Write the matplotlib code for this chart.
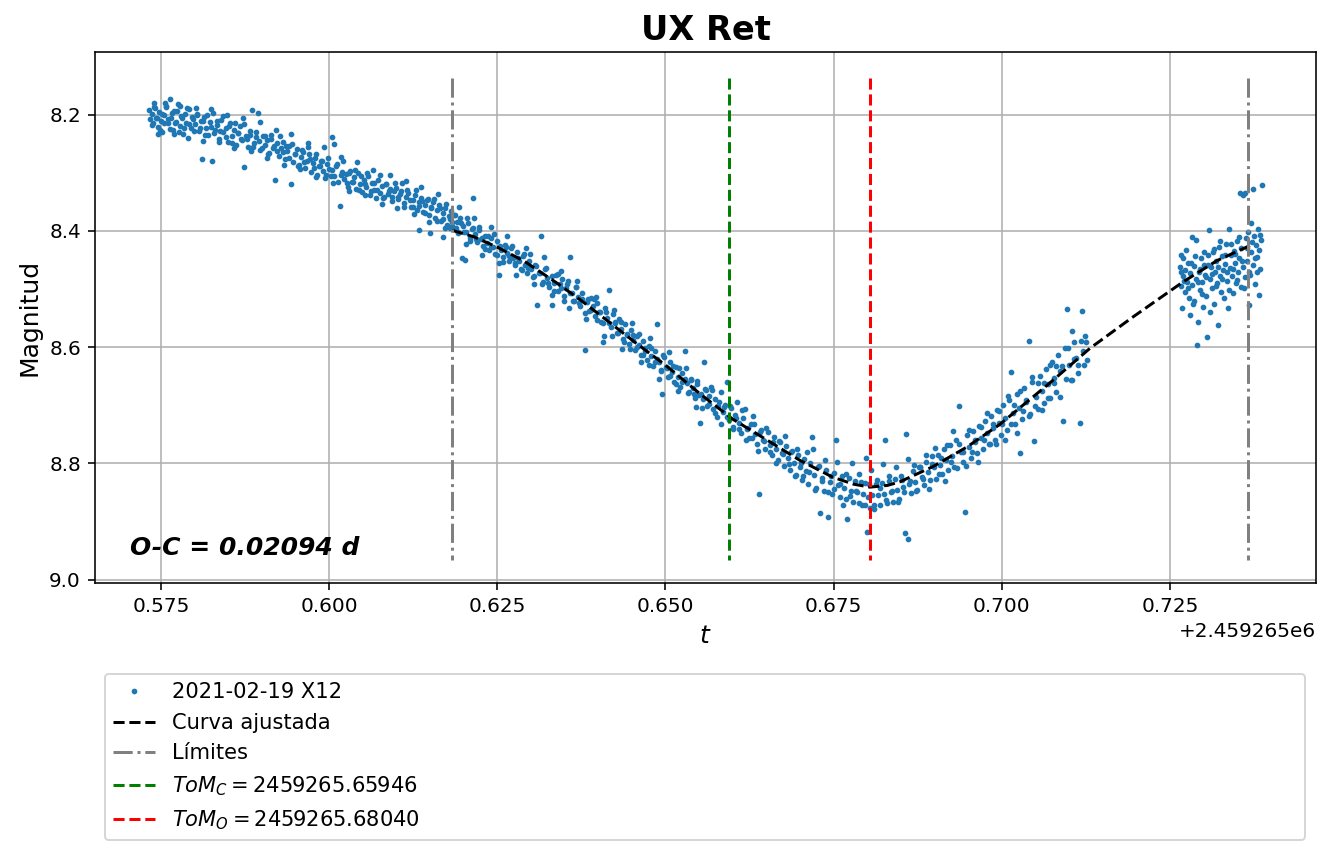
import numpy as np
import matplotlib
matplotlib.use("Agg")
import matplotlib.pyplot as plt

# Julian date base (plotted with the default offset formatter)
JD0 = 2459265.0

obs_pre = [
    (0.5733, 8.192), (0.5734, 8.208), (0.5736, 8.199), (0.5738, 8.214), (0.5740, 8.187),
    (0.5742, 8.205), (0.5745, 8.221), (0.5747, 8.196), (0.5750, 8.210), (0.5752, 8.230),
    (0.5755, 8.201), (0.5757, 8.185), (0.5760, 8.215), (0.5763, 8.173), (0.5765, 8.206),
    (0.5768, 8.226), (0.5770, 8.194), (0.5773, 8.212), (0.5775, 8.181), (0.5778, 8.219),
    (0.5780, 8.203), (0.5783, 8.233), (0.5786, 8.198), (0.5788, 8.214), (0.5791, 8.190),
    (0.5794, 8.222), (0.5797, 8.207), (0.5800, 8.216),
    (0.5803, 8.199), (0.5806, 8.228), (0.5809, 8.211), (0.5811, 8.277), (0.5814, 8.204),
    (0.5817, 8.222), (0.5820, 8.235), (0.5823, 8.213), (0.5826, 8.280), (0.5828, 8.197),
    (0.5831, 8.226), (0.5834, 8.218), (0.5837, 8.241), (0.5840, 8.209), (0.5843, 8.230),
    (0.5846, 8.222), (0.5849, 8.247), (0.5852, 8.215), (0.5855, 8.236), (0.5858, 8.226),
    (0.5861, 8.252), (0.5864, 8.231), (0.5867, 8.219), (0.5870, 8.244), (0.5873, 8.290),
    (0.5876, 8.236), (0.5879, 8.255), (0.5882, 8.228), (0.5885, 8.191), (0.5888, 8.248),
    (0.5891, 8.239), (0.5895, 8.197), (0.5898, 8.261),
    (0.5901, 8.236), (0.5904, 8.252), (0.5907, 8.244), (0.5910, 8.266), (0.5913, 8.241),
    (0.5916, 8.258), (0.5919, 8.313), (0.5922, 8.249), (0.5925, 8.271), (0.5928, 8.257),
    (0.5931, 8.247), (0.5934, 8.276), (0.5937, 8.262), (0.5940, 8.254), (0.5943, 8.320),
    (0.5946, 8.281), (0.5949, 8.267), (0.5952, 8.259), (0.5955, 8.286), (0.5958, 8.272),
    (0.5961, 8.264), (0.5964, 8.291), (0.5967, 8.279), (0.5970, 8.268), (0.5973, 8.298),
    (0.5976, 8.283), (0.5979, 8.274), (0.5982, 8.303), (0.5985, 8.288), (0.5988, 8.279),
    (0.5991, 8.296), (0.5994, 8.309), (0.5997, 8.284),
    (0.6000, 8.294), (0.6003, 8.306), (0.6005, 8.239), (0.6007, 8.251), (0.6010, 8.289),
    (0.6013, 8.316), (0.6016, 8.357), (0.6019, 8.298), (0.6022, 8.311), (0.6025, 8.302),
    (0.6028, 8.324), (0.6031, 8.296), (0.6034, 8.315), (0.6037, 8.308), (0.6040, 8.327),
    (0.6043, 8.301), (0.6046, 8.319), (0.6049, 8.333), (0.6052, 8.312), (0.6055, 8.324),
    (0.6058, 8.306), (0.6061, 8.338), (0.6064, 8.318), (0.6067, 8.329), (0.6070, 8.344),
    (0.6073, 8.312), (0.6076, 8.335), (0.6079, 8.323), (0.6082, 8.341), (0.6085, 8.319),
    (0.6088, 8.337), (0.6091, 8.327), (0.6094, 8.349), (0.6097, 8.331),
    (0.6100, 8.326), (0.6103, 8.345), (0.6106, 8.337), (0.6109, 8.318), (0.6112, 8.352),
    (0.6115, 8.341), (0.6118, 8.334), (0.6121, 8.359), (0.6124, 8.346), (0.6127, 8.338),
    (0.6130, 8.364), (0.6133, 8.350), (0.6134, 8.398), (0.6136, 8.343), (0.6139, 8.368),
    (0.6142, 8.355), (0.6145, 8.347), (0.6148, 8.372), (0.6150, 8.404), (0.6151, 8.359),
    (0.6154, 8.351), (0.6157, 8.378), (0.6160, 8.364), (0.6163, 8.356), (0.6166, 8.383),
    (0.6169, 8.369), (0.6170, 8.410), (0.6172, 8.361), (0.6175, 8.390), (0.6178, 8.374),
    (0.6179, 8.395), (0.6181, 8.366), (0.6183, 8.385),
]

obs_pre_b = [
    (0.5737, 8.217), (0.5741, 8.189), (0.5744, 8.206), (0.5748, 8.227), (0.5751, 8.198),
    (0.5754, 8.215), (0.5758, 8.186), (0.5761, 8.207), (0.5764, 8.224), (0.5767, 8.197),
    (0.5771, 8.214), (0.5774, 8.193), (0.5777, 8.229), (0.5781, 8.206), (0.5785, 8.222),
    (0.5789, 8.189), (0.5792, 8.216), (0.5796, 8.204), (0.5799, 8.228), (0.5804, 8.201),
    (0.5808, 8.223), (0.5812, 8.211), (0.5816, 8.235), (0.5819, 8.201), (0.5824, 8.221),
    (0.5829, 8.232), (0.5833, 8.210), (0.5838, 8.228), (0.5842, 8.203), (0.5847, 8.239),
    (0.5851, 8.220), (0.5856, 8.249), (0.5860, 8.215), (0.5865, 8.231), (0.5869, 8.242),
    (0.5874, 8.216), (0.5878, 8.242), (0.5883, 8.235), (0.5887, 8.256), (0.5892, 8.229),
    (0.5896, 8.246), (0.5900, 8.257), (0.5905, 8.237), (0.5909, 8.267), (0.5914, 8.235),
    (0.5918, 8.253), (0.5923, 8.263), (0.5927, 8.236), (0.5932, 8.264), (0.5936, 8.253),
    (0.5941, 8.275), (0.5945, 8.251), (0.5950, 8.268), (0.5954, 8.288), (0.5959, 8.260),
    (0.5963, 8.281), (0.5968, 8.256), (0.5972, 8.276), (0.5977, 8.291), (0.5981, 8.267),
    (0.5986, 8.288), (0.5990, 8.280), (0.5995, 8.304), (0.5999, 8.275), (0.6004, 8.295),
    (0.6008, 8.305), (0.6012, 8.285), (0.6017, 8.304), (0.6021, 8.280), (0.6026, 8.318),
    (0.6030, 8.301), (0.6035, 8.315), (0.6039, 8.295), (0.6044, 8.330), (0.6048, 8.305),
    (0.6053, 8.319), (0.6057, 8.300), (0.6062, 8.331), (0.6066, 8.318), (0.6071, 8.330),
    (0.6075, 8.304), (0.6080, 8.343), (0.6084, 8.319), (0.6089, 8.332), (0.6093, 8.342),
    (0.6098, 8.318), (0.6102, 8.341), (0.6107, 8.332), (0.6111, 8.358), (0.6116, 8.329),
    (0.6120, 8.347), (0.6125, 8.358), (0.6129, 8.330), (0.6134, 8.357), (0.6138, 8.348),
    (0.6143, 8.369), (0.6147, 8.345), (0.6152, 8.361), (0.6156, 8.345), (0.6161, 8.383),
    (0.6165, 8.360), (0.6170, 8.379), (0.6174, 8.353), (0.6179, 8.379), (0.6182, 8.391),
]

obs_desc = [
    (0.6186, 8.372), (0.6188, 8.395), (0.6190, 8.384), (0.6192, 8.404), (0.6195, 8.377),
    (0.6197, 8.447), (0.6199, 8.392), (0.6202, 8.450), (0.6204, 8.401), (0.6207, 8.386),
    (0.6210, 8.412), (0.6212, 8.397), (0.6214, 8.344), (0.6217, 8.405), (0.6220, 8.419),
    (0.6223, 8.399), (0.6226, 8.414), (0.6229, 8.426), (0.6232, 8.408), (0.6235, 8.421),
    (0.6238, 8.433), (0.6241, 8.413), (0.6244, 8.427), (0.6247, 8.440), (0.6250, 8.418),
    (0.6252, 8.475), (0.6255, 8.432), (0.6258, 8.445), (0.6261, 8.424), (0.6264, 8.438),
    (0.6267, 8.451), (0.6270, 8.430), (0.6273, 8.446), (0.6276, 8.459), (0.6279, 8.437),
    (0.6282, 8.452), (0.6285, 8.466), (0.6288, 8.444), (0.6291, 8.458), (0.6294, 8.473),
    (0.6297, 8.451), (0.6300, 8.466), (0.6303, 8.480), (0.6306, 8.459), (0.6309, 8.528),
    (0.6312, 8.473), (0.6315, 8.409), (0.6318, 8.488), (0.6321, 8.466), (0.6324, 8.481),
    (0.6327, 8.497), (0.6331, 8.528), (0.6334, 8.489), (0.6337, 8.475), (0.6340, 8.504),
    (0.6343, 8.492), (0.6346, 8.482), (0.6349, 8.512), (0.6352, 8.498), (0.6355, 8.487),
    (0.6358, 8.445), (0.6361, 8.506), (0.6364, 8.521), (0.6367, 8.497), (0.6370, 8.513),
    (0.6373, 8.530), (0.6376, 8.507), (0.6380, 8.605), (0.6383, 8.522), (0.6386, 8.538),
    (0.6389, 8.515), (0.6392, 8.530), (0.6395, 8.547), (0.6398, 8.524), (0.6401, 8.540),
    (0.6404, 8.556), (0.6407, 8.591), (0.6410, 8.533), (0.6413, 8.549), (0.6416, 8.501),
    (0.6419, 8.566), (0.6422, 8.543), (0.6425, 8.559), (0.6428, 8.576), (0.6431, 8.552),
    (0.6434, 8.569), (0.6437, 8.586), (0.6440, 8.561), (0.6443, 8.578), (0.6446, 8.595),
    (0.6449, 8.571), (0.6452, 8.588), (0.6455, 8.605), (0.6458, 8.580), (0.6461, 8.597),
    (0.6464, 8.614), (0.6467, 8.590), (0.6470, 8.606), (0.6473, 8.623), (0.6476, 8.598),
    (0.6479, 8.616), (0.6482, 8.633), (0.6485, 8.607), (0.6487, 8.561), (0.6490, 8.625),
    (0.6493, 8.641), (0.6495, 8.680), (0.6498, 8.617), (0.6501, 8.634), (0.6504, 8.651),
    (0.6507, 8.626), (0.6510, 8.643), (0.6513, 8.660), (0.6516, 8.635), (0.6519, 8.652),
    (0.6522, 8.669), (0.6525, 8.645), (0.6529, 8.607), (0.6532, 8.662), (0.6535, 8.678),
    (0.6538, 8.654), (0.6541, 8.671), (0.6544, 8.688), (0.6547, 8.663), (0.6551, 8.731),
    (0.6553, 8.681),
]

obs_desc_b = [
    (0.6187, 8.373), (0.6191, 8.402), (0.6196, 8.387), (0.6200, 8.401), (0.6205, 8.378),
    (0.6209, 8.417), (0.6214, 8.395), (0.6218, 8.414), (0.6223, 8.394), (0.6227, 8.413),
    (0.6232, 8.431), (0.6236, 8.408), (0.6241, 8.428), (0.6245, 8.406), (0.6250, 8.441),
    (0.6254, 8.426), (0.6259, 8.454), (0.6263, 8.428), (0.6268, 8.443), (0.6272, 8.426),
    (0.6277, 8.455), (0.6281, 8.446), (0.6286, 8.468), (0.6290, 8.440), (0.6295, 8.463),
    (0.6299, 8.439), (0.6304, 8.477), (0.6308, 8.461), (0.6313, 8.473), (0.6317, 8.492),
    (0.6322, 8.463), (0.6326, 8.489), (0.6331, 8.477), (0.6335, 8.503), (0.6340, 8.474),
    (0.6344, 8.499), (0.6349, 8.520), (0.6353, 8.492), (0.6358, 8.506), (0.6362, 8.521),
    (0.6367, 8.497), (0.6371, 8.524), (0.6376, 8.518), (0.6380, 8.542), (0.6385, 8.518),
    (0.6389, 8.536), (0.6394, 8.517), (0.6398, 8.554), (0.6403, 8.539), (0.6407, 8.559),
    (0.6412, 8.540), (0.6416, 8.559), (0.6421, 8.581), (0.6425, 8.557), (0.6430, 8.575),
    (0.6434, 8.557), (0.6439, 8.591), (0.6443, 8.579), (0.6448, 8.603), (0.6452, 8.579),
    (0.6457, 8.599), (0.6461, 8.578), (0.6466, 8.613), (0.6470, 8.601), (0.6475, 8.631),
    (0.6479, 8.601), (0.6484, 8.625), (0.6488, 8.620), (0.6493, 8.640), (0.6497, 8.613),
    (0.6502, 8.636), (0.6506, 8.649), (0.6511, 8.632), (0.6515, 8.664), (0.6520, 8.636),
    (0.6524, 8.660), (0.6529, 8.654), (0.6533, 8.679), (0.6538, 8.657), (0.6542, 8.681),
    (0.6547, 8.658), (0.6550, 8.683),
]

# wider-scatter points on both sides of the descending branch
obs_wide = [
    (0.5739, 8.180), (0.5746, 8.233), (0.5756, 8.179), (0.5769, 8.234), (0.5779, 8.185),
    (0.5790, 8.240), (0.5802, 8.188), (0.5813, 8.246), (0.5825, 8.190), (0.5836, 8.247),
    (0.5848, 8.201), (0.5859, 8.258), (0.5872, 8.205), (0.5884, 8.262), (0.5897, 8.213),
    (0.5908, 8.274), (0.5921, 8.227), (0.5933, 8.287), (0.5944, 8.234), (0.5957, 8.293),
    (0.5969, 8.248), (0.5980, 8.308), (0.5993, 8.256), (0.6006, 8.318), (0.6018, 8.273),
    (0.6029, 8.331), (0.6042, 8.281), (0.6054, 8.339), (0.6065, 8.295), (0.6078, 8.354),
    (0.6090, 8.303), (0.6101, 8.361), (0.6114, 8.314), (0.6126, 8.371), (0.6137, 8.325),
    (0.6149, 8.384), (0.6162, 8.336), (0.6173, 8.395),
    (0.6193, 8.358), (0.6203, 8.423), (0.6216, 8.378), (0.6228, 8.442), (0.6240, 8.394),
    (0.6253, 8.456), (0.6265, 8.408), (0.6278, 8.476), (0.6292, 8.430), (0.6305, 8.491),
    (0.6319, 8.445), (0.6332, 8.510), (0.6345, 8.469), (0.6357, 8.533), (0.6369, 8.487),
    (0.6382, 8.552), (0.6396, 8.513), (0.6409, 8.581), (0.6423, 8.536), (0.6436, 8.603),
    (0.6450, 8.558), (0.6463, 8.625), (0.6477, 8.585), (0.6491, 8.654), (0.6505, 8.608),
    (0.6518, 8.675), (0.6531, 8.636), (0.6545, 8.703),
]

obs_min = [
    (0.6556, 8.690), (0.6557, 8.625), (0.6559, 8.672), (0.6562, 8.701), (0.6565, 8.684),
    (0.6568, 8.668), (0.6571, 8.706), (0.6574, 8.689), (0.6577, 8.720), (0.6580, 8.694),
    (0.6583, 8.677), (0.6586, 8.712), (0.6589, 8.699), (0.6591, 8.660), (0.6594, 8.725),
    (0.6597, 8.704), (0.6600, 8.738), (0.6603, 8.716), (0.6606, 8.695), (0.6609, 8.730),
    (0.6612, 8.748), (0.6615, 8.722), (0.6618, 8.707), (0.6621, 8.741), (0.6624, 8.757),
    (0.6627, 8.733), (0.6630, 8.718), (0.6633, 8.750), (0.6636, 8.766), (0.6639, 8.852),
    (0.6642, 8.742), (0.6645, 8.760), (0.6648, 8.776), (0.6652, 8.746), (0.6655, 8.768),
    (0.6658, 8.786), (0.6661, 8.754), (0.6664, 8.775), (0.6667, 8.795), (0.6670, 8.763),
    (0.6673, 8.783), (0.6676, 8.804), (0.6679, 8.770), (0.6682, 8.791), (0.6685, 8.812),
    (0.6688, 8.778), (0.6691, 8.799), (0.6694, 8.820), (0.6697, 8.785), (0.6700, 8.806),
    (0.6703, 8.828), (0.6706, 8.792), (0.6709, 8.813), (0.6712, 8.835), (0.6715, 8.799),
    (0.6718, 8.755), (0.6721, 8.820), (0.6724, 8.842), (0.6727, 8.806), (0.6729, 8.886),
    (0.6732, 8.826), (0.6735, 8.848), (0.6738, 8.812), (0.6741, 8.893), (0.6744, 8.832),
    (0.6747, 8.853), (0.6750, 8.817), (0.6753, 8.759), (0.6756, 8.837), (0.6759, 8.858),
    (0.6762, 8.822), (0.6765, 8.843), (0.6768, 8.862), (0.6770, 8.895), (0.6773, 8.826),
    (0.6776, 8.847), (0.6779, 8.866), (0.6782, 8.830), (0.6785, 8.850), (0.6788, 8.869),
    (0.6791, 8.833), (0.6794, 8.853), (0.6797, 8.871), (0.6798, 8.790), (0.6800, 8.918),
    (0.6802, 8.835), (0.6804, 8.877), (0.6807, 8.854), (0.6810, 8.872), (0.6813, 8.836),
    (0.6816, 8.855), (0.6819, 8.871), (0.6822, 8.834), (0.6825, 8.853), (0.6826, 8.759),
    (0.6829, 8.869), (0.6832, 8.831), (0.6835, 8.850), (0.6838, 8.866), (0.6841, 8.827),
    (0.6844, 8.846), (0.6847, 8.862), (0.6850, 8.822), (0.6853, 8.841), (0.6856, 8.920),
    (0.6857, 8.750), (0.6860, 8.931), (0.6862, 8.835), (0.6865, 8.851), (0.6868, 8.814),
    (0.6871, 8.832), (0.6874, 8.846), (0.6877, 8.806), (0.6878, 8.807), (0.6881, 8.824),
    (0.6884, 8.838), (0.6887, 8.797), (0.6890, 8.815), (0.6893, 8.829), (0.6896, 8.788),
    (0.6899, 8.806),
]

obs_min_b = [
    (0.6555, 8.704), (0.6560, 8.674), (0.6564, 8.698), (0.6569, 8.673), (0.6573, 8.713),
    (0.6578, 8.701), (0.6582, 8.733), (0.6587, 8.703), (0.6592, 8.720), (0.6596, 8.702),
    (0.6601, 8.741), (0.6605, 8.722), (0.6610, 8.741), (0.6614, 8.708), (0.6619, 8.759),
    (0.6623, 8.739), (0.6628, 8.757), (0.6632, 8.732), (0.6637, 8.779), (0.6641, 8.746),
    (0.6646, 8.762), (0.6650, 8.739), (0.6656, 8.781), (0.6660, 8.763), (0.6665, 8.800),
    (0.6669, 8.761), (0.6674, 8.784), (0.6678, 8.753), (0.6683, 8.802), (0.6687, 8.780),
    (0.6692, 8.822), (0.6696, 8.775), (0.6701, 8.800), (0.6705, 8.822), (0.6710, 8.781),
    (0.6714, 8.815), (0.6719, 8.775), (0.6723, 8.846), (0.6728, 8.804), (0.6733, 8.831),
    (0.6737, 8.794), (0.6742, 8.849), (0.6746, 8.821), (0.6751, 8.844), (0.6755, 8.797),
    (0.6760, 8.835), (0.6764, 8.871), (0.6769, 8.819), (0.6774, 8.857), (0.6778, 8.800),
    (0.6783, 8.848), (0.6787, 8.819), (0.6792, 8.871), (0.6796, 8.834), (0.6801, 8.858),
    (0.6806, 8.812), (0.6810, 8.879), (0.6815, 8.829), (0.6819, 8.843), (0.6824, 8.801),
    (0.6828, 8.863), (0.6833, 8.821), (0.6837, 8.848), (0.6842, 8.806), (0.6846, 8.866),
    (0.6851, 8.828), (0.6855, 8.849), (0.6860, 8.792), (0.6864, 8.831), (0.6869, 8.803),
    (0.6873, 8.848), (0.6878, 8.806), (0.6883, 8.827), (0.6887, 8.785), (0.6892, 8.844),
    (0.6896, 8.802),
]

obs_rise = [
    (0.6902, 8.827), (0.6905, 8.785), (0.6908, 8.803), (0.6911, 8.819), (0.6914, 8.776),
    (0.6917, 8.795), (0.6920, 8.812), (0.6923, 8.768), (0.6926, 8.788), (0.6929, 8.806),
    (0.6932, 8.760), (0.6936, 8.702), (0.6939, 8.781), (0.6942, 8.798), (0.6945, 8.883),
    (0.6948, 8.752), (0.6951, 8.772), (0.6954, 8.791), (0.6957, 8.744), (0.6960, 8.764),
    (0.6963, 8.783), (0.6966, 8.736), (0.6969, 8.756), (0.6972, 8.775), (0.6975, 8.727),
    (0.6978, 8.748), (0.6981, 8.767), (0.6984, 8.718), (0.6987, 8.739), (0.6990, 8.759),
    (0.6993, 8.709), (0.6996, 8.731), (0.6999, 8.751), (0.7002, 8.700), (0.7005, 8.722),
    (0.7008, 8.742), (0.7011, 8.691), (0.7013, 8.643), (0.7016, 8.713), (0.7019, 8.733),
    (0.7022, 8.681), (0.7025, 8.704), (0.7027, 8.783), (0.7030, 8.724), (0.7033, 8.671),
    (0.7036, 8.695), (0.7040, 8.590), (0.7042, 8.715), (0.7045, 8.660), (0.7048, 8.762),
    (0.7051, 8.685), (0.7054, 8.706), (0.7057, 8.649), (0.7060, 8.675), (0.7063, 8.697),
    (0.7066, 8.638), (0.7069, 8.664), (0.7072, 8.688), (0.7075, 8.626), (0.7078, 8.653),
    (0.7081, 8.678), (0.7084, 8.614), (0.7087, 8.641), (0.7091, 8.727), (0.7094, 8.602),
    (0.7097, 8.535), (0.7100, 8.630), (0.7103, 8.657), (0.7104, 8.573), (0.7107, 8.591),
    (0.7110, 8.618), (0.7113, 8.645), (0.7116, 8.731), (0.7119, 8.538), (0.7121, 8.606),
    (0.7124, 8.580), (0.7126, 8.623),
]

obs_rise_b = [
    (0.6901, 8.773), (0.6906, 8.818), (0.6910, 8.790), (0.6915, 8.830), (0.6919, 8.769),
    (0.6924, 8.797), (0.6928, 8.745), (0.6933, 8.808), (0.6937, 8.767), (0.6942, 8.780),
    (0.6946, 8.804), (0.6951, 8.743), (0.6955, 8.780), (0.6960, 8.759), (0.6964, 8.798),
    (0.6969, 8.737), (0.6973, 8.760), (0.6978, 8.714), (0.6982, 8.767), (0.6987, 8.732),
    (0.6991, 8.767), (0.6996, 8.710), (0.7000, 8.733), (0.7005, 8.759), (0.7009, 8.684),
    (0.7014, 8.732), (0.7018, 8.699), (0.7023, 8.748), (0.7027, 8.676), (0.7032, 8.710),
    (0.7036, 8.691), (0.7041, 8.718), (0.7045, 8.651), (0.7050, 8.701), (0.7054, 8.661),
    (0.7059, 8.708), (0.7063, 8.661), (0.7068, 8.688), (0.7072, 8.630), (0.7077, 8.662),
    (0.7081, 8.632), (0.7086, 8.686), (0.7090, 8.632), (0.7095, 8.654), (0.7099, 8.601),
    (0.7104, 8.656), (0.7108, 8.620), (0.7113, 8.630), (0.7117, 8.589), (0.7122, 8.630),
    (0.7125, 8.592),
]

obs_end = [
    (0.7265, 8.462), (0.7266, 8.495), (0.7268, 8.533), (0.7269, 8.478), (0.7270, 8.447),
    (0.7272, 8.505), (0.7273, 8.468), (0.7275, 8.488), (0.7276, 8.455), (0.7278, 8.515),
    (0.7279, 8.545), (0.7280, 8.472), (0.7282, 8.411), (0.7283, 8.493), (0.7285, 8.460),
    (0.7286, 8.521), (0.7288, 8.482), (0.7289, 8.415), (0.7290, 8.597), (0.7291, 8.556),
    (0.7293, 8.470), (0.7294, 8.502), (0.7296, 8.447), (0.7297, 8.488), (0.7299, 8.531),
    (0.7300, 8.459), (0.7302, 8.476), (0.7303, 8.512), (0.7305, 8.583), (0.7306, 8.441),
    (0.7308, 8.399), (0.7309, 8.483), (0.7311, 8.462), (0.7312, 8.498), (0.7314, 8.436),
    (0.7315, 8.525), (0.7317, 8.470), (0.7318, 8.451), (0.7320, 8.490), (0.7321, 8.562),
    (0.7323, 8.428), (0.7324, 8.477), (0.7326, 8.505), (0.7327, 8.444), (0.7329, 8.468),
    (0.7330, 8.516), (0.7332, 8.457), (0.7333, 8.423), (0.7335, 8.486), (0.7336, 8.532),
    (0.7337, 8.397), (0.7339, 8.463), (0.7340, 8.441), (0.7342, 8.478), (0.7343, 8.507),
    (0.7345, 8.434), (0.7346, 8.455), (0.7348, 8.490), (0.7349, 8.418), (0.7351, 8.471),
    (0.7352, 8.447), (0.7354, 8.335), (0.7355, 8.496), (0.7356, 8.429), (0.7358, 8.462),
    (0.7359, 8.339), (0.7361, 8.480), (0.7362, 8.335), (0.7363, 8.413), (0.7365, 8.451),
    (0.7366, 8.402), (0.7367, 8.528), (0.7368, 8.470), (0.7370, 8.387), (0.7371, 8.436),
    (0.7373, 8.327), (0.7374, 8.458), (0.7375, 8.408), (0.7377, 8.492), (0.7378, 8.425),
    (0.7379, 8.445), (0.7381, 8.396), (0.7382, 8.510), (0.7383, 8.432), (0.7384, 8.466),
    (0.7385, 8.415), (0.7386, 8.321),
    (0.7266, 8.441), (0.7267, 8.470), (0.7271, 8.486), (0.7274, 8.432), (0.7277, 8.499),
    (0.7281, 8.456), (0.7284, 8.525), (0.7287, 8.443), (0.7292, 8.488), (0.7295, 8.466),
    (0.7298, 8.508), (0.7301, 8.437), (0.7304, 8.479), (0.7307, 8.458), (0.7310, 8.540),
    (0.7313, 8.474), (0.7316, 8.431), (0.7319, 8.495), (0.7322, 8.462), (0.7325, 8.418),
    (0.7328, 8.483), (0.7331, 8.442), (0.7334, 8.470), (0.7338, 8.502), (0.7341, 8.423),
    (0.7344, 8.466), (0.7347, 8.440), (0.7350, 8.485), (0.7353, 8.411), (0.7357, 8.452),
    (0.7360, 8.498), (0.7364, 8.430), (0.7369, 8.476), (0.7372, 8.419), (0.7376, 8.446),
    (0.7380, 8.470), (0.7384, 8.407),
]

# Fitted curve
curve_t = [0.6183, 0.6215, 0.6250, 0.6290, 0.6339, 0.6375, 0.6413, 0.6455, 0.6500,
           0.6551, 0.6600, 0.6651, 0.6700, 0.6749, 0.6780, 0.6804, 0.6830, 0.6848,
           0.6897, 0.6948, 0.6997, 0.7071, 0.7131, 0.7195, 0.7269, 0.7320, 0.7373]
curve_m = [8.399, 8.410, 8.428, 8.452, 8.490, 8.520, 8.554, 8.592, 8.631,
           8.680, 8.724, 8.760, 8.795, 8.824, 8.836, 8.841, 8.838, 8.832,
           8.806, 8.772, 8.733, 8.662, 8.602, 8.548, 8.488, 8.451, 8.423]

limits = [0.61825, 0.7366]
tom_c = 2459265.65946
tom_o = 2459265.68040
oc = 0.02094
vline_lo, vline_hi = 8.137, 8.966

obs = np.array(obs_pre + obs_pre_b + obs_desc + obs_desc_b + obs_wide + obs_min
               + obs_min_b + obs_rise + obs_rise_b + obs_end)
t = JD0 + obs[:, 0]
mag = obs[:, 1]

fig, ax = plt.subplots(figsize=(1334 / 144, 855 / 144), dpi=144)
fig.subplots_adjust(left=95 / 1334, right=1316 / 1334, top=1 - 52 / 855, bottom=1 - 583 / 855)

ax.plot(t, mag, '.', color='tab:blue', ms=3.7, label='2021-02-19 X12', zorder=2)
ax.plot(JD0 + np.array(curve_t), curve_m, 'k--', label='Curva ajustada', zorder=3)
ax.vlines([JD0 + x for x in limits], vline_lo, vline_hi, colors='gray',
          linestyles='-.', label='Límites', zorder=3)
ax.vlines(tom_c, vline_lo, vline_hi, colors='green', linestyles='--',
          label=r'$ToM_C = %.5f$' % tom_c, zorder=3)
ax.vlines(tom_o, vline_lo, vline_hi, colors='red', linestyles='--',
          label=r'$ToM_O = %.5f$' % tom_o, zorder=3)

ax.set_xlim(JD0 + 0.5652, JD0 + 0.7467)
ax.set_ylim(9.006, 8.092)
ax.grid(True)
ax.set_axisbelow(True)

ax.text(0.0287, 0.053, 'O-C = %.5f d' % oc, transform=ax.transAxes,
        fontsize=12.5, fontweight='bold', fontstyle='italic')

ax.set_title('UX Ret', fontsize=16.8, fontweight='bold')
ax.set_xlabel('$t$', fontsize=12.5)
ax.set_ylabel('Magnitud', fontsize=12.5)

ax.legend(loc='upper left', bbox_to_anchor=(10 / 1221, -0.1714, 1200 / 1221, 0),
          mode='expand', borderaxespad=0, fontsize=10.5)

fig.savefig('out.png', dpi=144)
